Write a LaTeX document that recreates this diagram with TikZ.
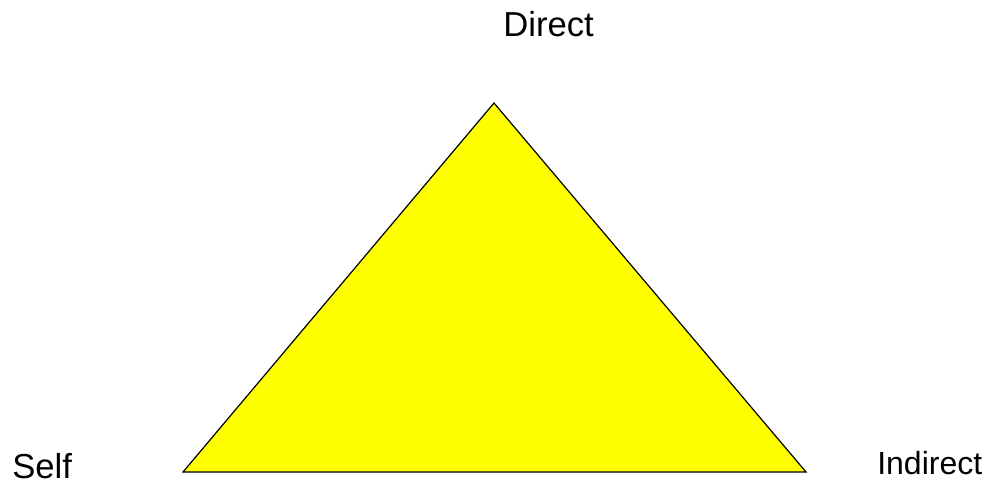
\documentclass[tikz,border=0pt]{standalone}
\usepackage{fontspec}
\setmainfont{Liberation Sans}
\definecolor{faceyellow}{RGB}{255,255,0}

\begin{document}
\begin{tikzpicture}[
    x=0.75pt, y=-0.75pt,
    corner/.style={font=\fontsize{26}{30}\selectfont, anchor=base west, inner sep=0pt},
    face/.style={draw=black, fill=faceyellow, line width=0.9pt, line join=miter}
]
    \useasboundingbox (0,0) rectangle (987,488);

    % Triangle
    \coordinate (apex) at (494,103);
    \coordinate (left) at (183,472);
    \coordinate (right) at (806,472);
    \filldraw[face] (apex) -- (left) -- (right) -- cycle;

    % Corner labels
    \node[corner] (direct) at (503,37) {Direct};
    \node[corner] (self) at (12,478) {Self};
    \node[corner, font=\fontsize{24}{28}\selectfont] (indirect) at (877,474) {Indirect};

\end{tikzpicture}
\end{document}
